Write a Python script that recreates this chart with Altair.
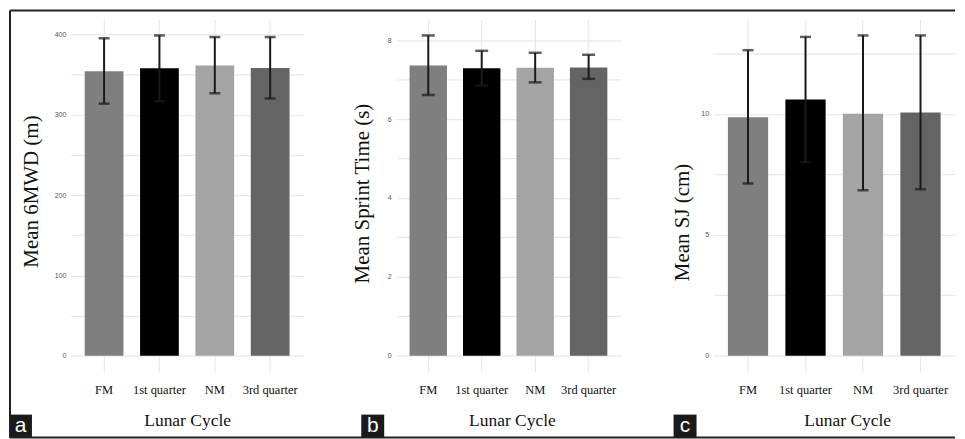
import altair as alt
import pandas as pd

categories = ["FM", "1st quarter", "NM", "3rd quarter"]
bar_colors = ["#7f7f7f", "#000000", "#a4a4a4", "#646464"]
x_title = "Lunar Cycle"

# Panel a: 6MWD (m)
mwd_mean = [354.5, 358.0, 361.5, 358.5]
mwd_low = [314.0, 317.0, 327.0, 320.5]
mwd_high = [395.5, 399.0, 397.0, 397.0]

# Panel b: sprint time (s)
sprint_mean = [7.36, 7.29, 7.30, 7.31]
sprint_low = [6.61, 6.85, 6.93, 7.02]
sprint_high = [8.12, 7.73, 7.68, 7.63]

# Panel c: SJ (cm)
sj_mean = [9.86, 10.59, 10.00, 10.05]
sj_low = [7.12, 8.00, 6.84, 6.88]
sj_high = [12.63, 13.18, 13.24, 13.24]

y_titles = ["Mean 6MWD (m)", "Mean Sprint Time (s)", "Mean SJ (cm)"]
grid_a = [0, 50, 100, 150, 200, 250, 300, 350, 400]
grid_b = [0, 1, 2, 3, 4, 5, 6, 7, 8]
grid_c = [0, 2.5, 5, 7.5, 10, 12.5]
label_every = [100, 2, 5]
panel_letters = ["a", "b", "c"]

SERIF = "Liberation Serif"
SANS = "Liberation Sans"
PLOT_H = 353
deco = pd.DataFrame({"k": [0]})


def panel(mean, low, high, ytitle, grid_vals, every, width, ytx, yty, xtx,
          letter, box_x, cap, frame=False):
    df = pd.DataFrame({"cycle": categories, "mean": mean, "low": low, "high": high})
    top = max(high)
    dom = [-0.05 * top, 1.05 * top]

    xscale = alt.Scale(domain=categories, paddingInner=0.3, paddingOuter=0.25)
    xenc = alt.X(
        "cycle:N",
        sort=categories,
        scale=xscale,
        title=x_title,
        axis=alt.Axis(
            title=x_title, labelAngle=0, labelFont=SERIF, labelFontSize=12.5,
            labelColor="#111111", labelPadding=12, grid=True,
            bandPosition=0.5, tickBand="center",
            titleFont=SERIF, titleFontSize=17.5,
            titleFontWeight="normal", titleColor="#111111", titleX=xtx,
            titleY=54, titleBaseline="alphabetic", titleAlign="center",
        ),
    )
    yscale = alt.Scale(domain=dom, nice=False, zero=False)
    yaxis = alt.Axis(
        title=ytitle, values=grid_vals,
        labelExpr=f"datum.value % {every} == 0 ? datum.label : ''",
        labelFont=SANS, labelFontSize=7, labelColor="#555555", labelPadding=5,
        grid=True, titleFont=SERIF, titleFontSize=21, titleFontWeight="normal",
        titleColor="#111111", titleX=ytx, titleY=yty, titleAlign="center",
        titleBaseline="middle", titleAngle=270,
    )

    base = alt.Chart(df)
    bars = base.mark_bar().encode(
        x=xenc,
        y=alt.Y("mean:Q", scale=yscale, axis=yaxis, title=ytitle),
        y2=alt.datum(0),
        color=alt.Color("cycle:N", scale=alt.Scale(domain=categories, range=bar_colors), legend=None),
    )
    xs = alt.X("cycle:N", sort=categories, title=x_title)
    stems = base.mark_rule(color="#1a1a1a", strokeWidth=2).encode(
        x=xs, y=alt.Y("low:Q", title=ytitle), y2="high:Q",
    )
    cap_hi = base.mark_tick(color="#1a1a1a", thickness=2.5, size=cap).encode(
        x=xs, y=alt.Y("high:Q", title=ytitle)
    )
    cap_lo = base.mark_tick(color="#1a1a1a", thickness=2.5, size=cap).encode(
        x=xs, y=alt.Y("low:Q", title=ytitle)
    )

    d = alt.Chart(deco)
    box = d.mark_rect(color="#1a1a1a").encode(
        x=alt.value(box_x), x2=alt.value(box_x + 23),
        y=alt.value(396), y2=alt.value(419),
    )
    letter_txt = d.mark_text(font=SANS, fontSize=21, color="white", align="center",
                             baseline="middle").encode(
        x=alt.value(box_x + 11.5), y=alt.value(407.5), text=alt.value(letter)
    )
    layers = [bars, stems, cap_hi, cap_lo, box, letter_txt]
    if frame:
        top_rule = d.mark_rule(color="#222222", strokeWidth=2).encode(
            x=alt.value(-61), x2=alt.value(886), y=alt.value(-9))
        bot_rule = d.mark_rule(color="#222222", strokeWidth=2).encode(
            x=alt.value(-61), x2=alt.value(886), y=alt.value(419))
        left_rule = d.mark_rule(color="#222222", strokeWidth=2).encode(
            x=alt.value(-61), y=alt.value(-9), y2=alt.value(419))
        layers += [top_rule, bot_rule, left_rule]
    return alt.layer(*layers).properties(width=width, height=PLOT_H)


pa = panel(mwd_mean, mwd_low, mwd_high, y_titles[0], grid_a, label_every[0], 233,
           -39, 172, 116.5, panel_letters[0], -62, 11, frame=True)
pb = panel(sprint_mean, sprint_low, sprint_high, y_titles[1], grid_b, label_every[1], 225,
           -34, 174, 116, panel_letters[1], -35, 13)
pc = panel(sj_mean, sj_low, sj_high, y_titles[2], grid_c, label_every[2], 242,
           -31, 203, 134, panel_letters[2], -40, 11)

chart = alt.hconcat(pa, pb, pc, spacing=93, bounds="flush").properties(
    padding=0
).configure(background="white").configure_view(
    stroke="transparent"
).configure_axis(
    grid=True, gridColor="#e8e8e8", gridWidth=1.2, ticks=False, tickSize=0,
    domain=False,
).configure_axisBand(grid=True, bandPosition=0.5, tickBand="center")

chart.save("out.html", embed_options={"renderer": "svg", "actions": False})
